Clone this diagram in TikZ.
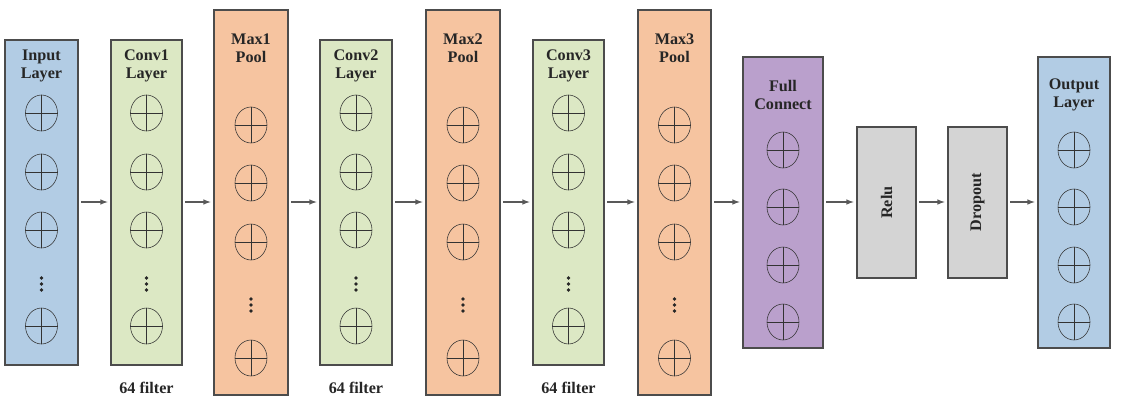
\documentclass[tikz,border=0pt]{standalone}
\usepackage{fontspec}
\setmainfont{Liberation Serif}
\usetikzlibrary{positioning}
\usetikzlibrary{shapes.geometric}
\definecolor{inblue}{RGB}{178,204,228}
\definecolor{convgreen}{RGB}{220,232,196}
\definecolor{poolorange}{RGB}{246,196,160}
\definecolor{fcpurple}{RGB}{186,160,204}
\definecolor{grayblock}{RGB}{212,212,212}
\tikzset{
  neuron/.style={draw=black!80, ellipse, minimum width=0.8cm, minimum height=0.9cm, inner sep=0pt},
  lbl/.style={font=\bfseries\fontsize{11.5}{12.5}\selectfont, align=center, text=black!85},
  link/.style={->, >=latex, thick, draw=black!65}
}
\newcommand{\neur}[3]{% name, x, y (px)
  \node[neuron] (#1) at (#2/40,-#3/40) {};
  \draw[black!80] (#1.north) -- (#1.south) (#1.west) -- (#1.east);
}
\newcommand{\dotsat}[2]{% three dots, centre x, y (px)
  \foreach \d in {-6,0,6} {\fill[black!85] (#1/40,-#2/40-\d/40) circle (1.4pt);}
}
\begin{document}
\begin{tikzpicture}
  \useasboundingbox (0,0) rectangle (1128/40,-405/40);
  % layer boxes
  \foreach \nm/\xa/\xb/\ya/\yb/\col in {in/5/78/40/365/inblue, cvA/111/182/40/365/convgreen,
      mpA/214/288/10/395/poolorange, cvB/320/392/40/365/convgreen,
      mpB/426/500/10/395/poolorange, cvC/533/604/40/365/convgreen,
      mpC/638/711/10/395/poolorange, fc/743/823/57/348/fcpurple,
      relu/857/916/127/278/grayblock, drop/948/1007/127/278/grayblock,
      out/1038/1110/57/348/inblue} {
    \node[draw=black!70, thick, fill=\col, inner sep=0pt, minimum width=(\xb-\xa)/40*1cm,
          minimum height=(\yb-\ya)/40*1cm] (\nm) at ({(\xa+\xb)/80},{-(\ya+\yb)/80}) {};
  }
  % titles
  \node[lbl] at (41.5/40,-66/40) {Input\\Layer};
  \node[lbl] at (146.5/40,-66/40) {Conv1\\Layer};
  \node[lbl] at (251/40,-48/40) {Max1\\Pool};
  \node[lbl] at (356/40,-66/40) {Conv2\\Layer};
  \node[lbl] at (463/40,-48/40) {Max2\\Pool};
  \node[lbl] at (568.5/40,-66/40) {Conv3\\Layer};
  \node[lbl] at (674.5/40,-48/40) {Max3\\Pool};
  \node[lbl] at (783/40,-95/40) {Full\\Connect};
  \node[lbl] at (1074/40,-95/40) {Output\\Layer};
  \node[lbl, rotate=90] at (relu) {Relu};
  \node[lbl, rotate=90] at (drop) {Dropout};
  % filter notes
  \foreach \x in {146.5,356,568.5} {
    \node[lbl] at (\x/40,-388/40) {64 filter};
  }
  % neurons in short columns
  \foreach \c/\x in {a/41.5,b/146.5,c/356,d/568.5} {
    \foreach \y [count=\i] in {113,172,230,326} {\neur{n\c\i}{\x}{\y}}
    \dotsat{\x}{284}
  }
  % neurons in pooling columns
  \foreach \c/\x in {e/251,f/463,g/674.5} {
    \foreach \y [count=\i] in {125,183,242,358} {\neur{n\c\i}{\x}{\y}}
    \dotsat{\x}{305}
  }
  % neurons in dense columns
  \foreach \c/\x in {h/783,k/1074} {
    \foreach \y [count=\i] in {150,207,265,322} {\neur{n\c\i}{\x}{\y}}
  }
  % connections
  \foreach \a/\b in {in/cvA, cvA/mpA, mpA/cvB, cvB/mpB, mpB/cvC, cvC/mpC, mpC/fc, fc/relu, relu/drop, drop/out} {
    \draw[link] ([xshift=2pt]\a.east |- 0,-202/40) -- ([xshift=-2pt]\b.west |- 0,-202/40);
  }
\end{tikzpicture}
\end{document}
